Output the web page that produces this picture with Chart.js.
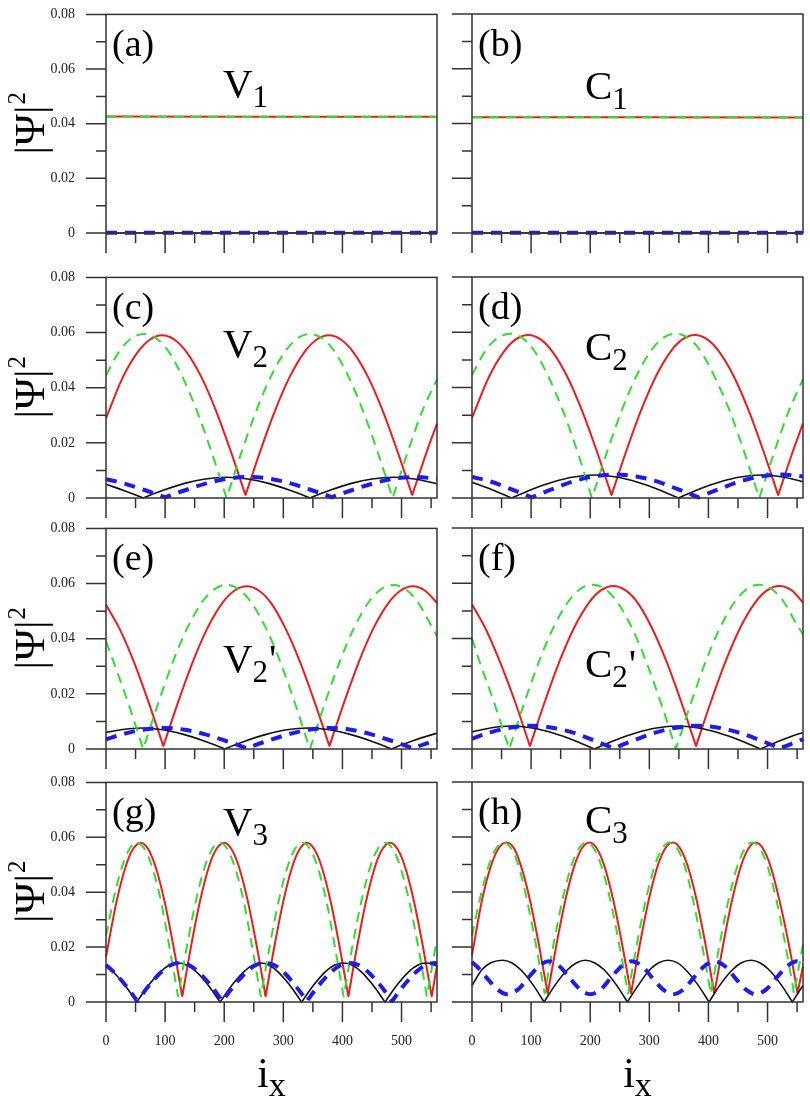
<!DOCTYPE html>
<html>
<head>
<meta charset="utf-8">
<script src="https://cdn.jsdelivr.net/npm/chart.js@4.4.1/dist/chart.umd.min.js"></script>
<style>
  html, body { margin: 0; padding: 0; background: #fff; }
  #fig { position: relative; width: 810px; height: 1104px; overflow: hidden; }
  #fig canvas { position: absolute; }
</style>
</head>
<body>
<div id="fig"></div>
<script>
// |Psi|^2 along i_x. Each series is a list of [i_x, value].
const xTicks = [0, 100, 200, 300, 400, 500];
const yTicks = [0, 0.02, 0.04, 0.06, 0.08];

// (a) V1 / (b) C1
const aRed = [[0, 0.0426], [560, 0.0425]];
const aGreen = [[0, 0.0426], [560, 0.0425]];
const aBlack = [[0, 0], [560, 0]];
const aBlue = [[0, 0.0001], [560, 0.0001]];
const bRed = [[0, 0.0423], [560, 0.0422]];
const bGreen = [[0, 0.0423], [560, 0.0422]];
const bBlack = [[0, 0], [560, 0]];
const bBlue = [[0, 0.0001], [560, 0.0001]];

// (c) V2 / (d) C2
const cRed = [[0,0.029],[29,0.044],[54,0.053],[74,0.0574],[95,0.059],[116,0.0574],[136,0.053],[161,0.044],[186,0.0317],[211,0.017],[234,0.0023],[236,0.001],[238,0.0023],[261,0.017],[286,0.0317],[311,0.044],[336,0.053],[356,0.0574],[377,0.059],[398,0.0574],[418,0.053],[443,0.044],[468,0.0317],[493,0.017],[516,0.0023],[518,0.001],[520,0.0023],[543,0.017],[560,0.027]];
const cGreen = [[0,0.0445],[23,0.0534],[43,0.0579],[64,0.0595],[85,0.0579],[105,0.0534],[129,0.0441],[154,0.0315],[179,0.0164],[202,0.0013],[204,0],[206,0.0013],[229,0.0164],[254,0.0315],[279,0.0441],[304,0.0534],[324,0.0579],[345,0.0595],[366,0.0579],[386,0.0534],[410,0.0441],[435,0.0315],[460,0.0164],[483,0.0013],[485,0],[487,0.0013],[510,0.0164],[535,0.0315],[560,0.043]];
const cBlack = [[0,0.005],[28,0.0029],[61,0.0002],[63,0],[65,0.0002],[98,0.0029],[133,0.0053],[168,0.0069],[204,0.0075],[240,0.0069],[275,0.0053],[310,0.0029],[343,0.0002],[345,0],[347,0.0002],[380,0.0029],[415,0.0053],[450,0.0069],[486,0.0075],[522,0.0069],[560,0.0052]];
const cBlue = [[0,0.0068],[30,0.0053],[65,0.0029],[98,0.0004],[100,0.0002],[102,0.0004],[135,0.0029],[170,0.0053],[205,0.007],[241,0.0076],[277,0.007],[312,0.0053],[347,0.0029],[380,0.0004],[382,0.0002],[384,0.0004],[417,0.0029],[452,0.0053],[487,0.007],[523,0.0076],[560,0.007]];
const dRed = [[0,0.029],[29,0.044],[54,0.053],[74,0.0574],[95,0.059],[116,0.0574],[136,0.053],[161,0.044],[186,0.0317],[211,0.017],[234,0.0023],[236,0.001],[238,0.0023],[261,0.017],[286,0.0317],[311,0.044],[336,0.053],[356,0.0574],[377,0.059],[398,0.0574],[418,0.053],[443,0.044],[468,0.0317],[493,0.017],[516,0.0023],[518,0.001],[520,0.0023],[543,0.017],[560,0.027]];
const dGreen = [[0,0.0445],[23,0.0534],[43,0.0579],[64,0.0595],[85,0.0579],[105,0.0534],[129,0.0441],[154,0.0315],[179,0.0164],[201,0.0013],[203,0],[205,0.0013],[228,0.0164],[253,0.0315],[278,0.0441],[303,0.0534],[323,0.0579],[345,0.0595],[366,0.0579],[386,0.0534],[410,0.0441],[436,0.0315],[461,0.0164],[484,0.0013],[486,0],[488,0.0013],[511,0.0164],[536,0.0315],[560,0.043]];
const dBlack = [[0,0.0057],[32,0.0032],[65,0.0002],[67,0],[69,0.0002],[102,0.0032],[137,0.0058],[172,0.0076],[208,0.0083],[244,0.0076],[279,0.0058],[314,0.0032],[347,0.0002],[349,0],[351,0.0002],[384,0.0032],[419,0.0058],[454,0.0076],[490,0.0083],[526,0.0076],[560,0.0059]];
const dBlue = [[0,0.0076],[31,0.006],[66,0.0032],[99,0.0004],[101,0.0002],[103,0.0004],[136,0.0032],[171,0.006],[206,0.0078],[242,0.0085],[278,0.0078],[313,0.006],[348,0.0032],[381,0.0004],[383,0.0002],[385,0.0004],[418,0.0032],[453,0.006],[488,0.0078],[524,0.0085],[560,0.0078]];

// (e) V2' / (f) C2'
const eRed = [[0,0.0523],[22,0.044],[47,0.0317],[72,0.017],[95,0.0023],[97,0.001],[99,0.0023],[122,0.017],[147,0.0317],[172,0.044],[197,0.053],[217,0.0574],[238,0.059],[259,0.0574],[279,0.053],[303,0.044],[328,0.0317],[353,0.017],[376,0.0023],[378,0.001],[380,0.0023],[403,0.017],[428,0.0317],[453,0.044],[478,0.053],[498,0.0574],[519,0.059],[540,0.0574],[560,0.053]];
const eGreen = [[0,0.039],[13,0.0315],[38,0.0164],[61,0.0013],[63,0],[65,0.0013],[88,0.0164],[113,0.0315],[138,0.0441],[163,0.0534],[183,0.0579],[204,0.0595],[225,0.0579],[245,0.0534],[270,0.0441],[295,0.0315],[320,0.0164],[343,0.0013],[345,0],[347,0.0013],[370,0.0164],[395,0.0315],[420,0.0441],[445,0.0534],[465,0.0579],[486,0.0595],[507,0.0579],[527,0.0534],[552,0.0441],[560,0.041]];
const eBlack = [[0,0.006],[25,0.007],[60,0.0076],[96,0.007],[131,0.0053],[166,0.0029],[199,0.0002],[201,0],[203,0.0002],[236,0.0029],[271,0.0053],[306,0.007],[342,0.0076],[378,0.007],[413,0.0053],[448,0.0029],[481,0.0002],[483,0],[485,0.0002],[518,0.0029],[553,0.0053],[560,0.0057]];
const eBlue = [[0,0.0035],[27,0.0053],[62,0.007],[97,0.0076],[133,0.007],[168,0.0053],[203,0.0029],[236,0.0004],[238,0.0002],[240,0.0004],[273,0.0029],[308,0.0053],[343,0.007],[378,0.0076],[414,0.007],[449,0.0053],[484,0.0029],[517,0.0004],[519,0.0002],[521,0.0004],[554,0.0029],[560,0.0034]];
const fRed = [[0,0.0523],[22,0.044],[47,0.0317],[73,0.017],[96,0.0023],[98,0.001],[100,0.0023],[123,0.017],[148,0.0317],[173,0.044],[198,0.053],[218,0.0574],[239,0.059],[260,0.0574],[280,0.053],[304,0.044],[329,0.0317],[354,0.017],[377,0.0023],[379,0.001],[381,0.0023],[404,0.017],[429,0.0317],[454,0.044],[479,0.053],[499,0.0574],[520,0.059],[541,0.0574],[560,0.053]];
const fGreen = [[0,0.04],[13,0.0315],[38,0.0164],[61,0.0013],[63,0],[65,0.0013],[88,0.0164],[113,0.0315],[138,0.0441],[163,0.0534],[183,0.0579],[204,0.0595],[225,0.0579],[245,0.0534],[270,0.0441],[295,0.0315],[320,0.0164],[343,0.0013],[345,0],[347,0.0013],[370,0.0164],[395,0.0315],[420,0.0441],[445,0.0534],[465,0.0579],[486,0.0595],[507,0.0579],[527,0.0534],[552,0.0441],[560,0.0415]];
const fBlack = [[0,0.0062],[31,0.0076],[66,0.0083],[102,0.0076],[137,0.0058],[172,0.0032],[205,0.0002],[207,0],[209,0.0002],[242,0.0032],[277,0.0058],[312,0.0076],[347,0.0083],[383,0.0076],[418,0.0058],[453,0.0032],[486,0.0002],[488,0],[490,0.0002],[523,0.0032],[558,0.0058],[560,0.0059]];
const fBlue = [[0,0.0037],[29,0.0059],[64,0.0077],[100,0.0084],[136,0.0077],[171,0.0059],[205,0.0032],[238,0.0004],[240,0.0002],[242,0.0004],[275,0.0032],[310,0.0059],[345,0.0077],[381,0.0084],[417,0.0077],[452,0.0059],[487,0.0032],[519,0.0004],[521,0.0002],[523,0.0004],[556,0.0032],[560,0.0036]];

// (g) V3 / (h) C3
const gRed = [[0,0.0165],[18,0.0367],[33,0.0492],[46,0.0558],[59,0.058],[71,0.0558],[84,0.0492],[99,0.0367],[114,0.0204],[127,0.0045],[129,0.002],[131,0.0045],[144,0.0204],[159,0.0367],[174,0.0492],[187,0.0558],[200,0.058],[212,0.0558],[225,0.0492],[240,0.0367],[255,0.0204],[268,0.0045],[270,0.002],[272,0.0045],[285,0.0204],[300,0.0367],[315,0.0492],[328,0.0558],[340,0.058],[352,0.0558],[365,0.0492],[380,0.0367],[395,0.0204],[408,0.0045],[410,0.002],[412,0.0045],[425,0.0204],[440,0.0367],[455,0.0492],[468,0.0558],[481,0.058],[493,0.0558],[506,0.0492],[521,0.0367],[536,0.0204],[549,0.0045],[551,0.002],[553,0.0045],[560,0.0133]];
const gGreen = [[0,0.024],[12,0.0367],[27,0.0492],[40,0.0558],[52,0.058],[65,0.0558],[78,0.0492],[93,0.0367],[107,0.0204],[120,0.0045],[122,0.002],[124,0.0045],[137,0.0204],[152,0.0367],[167,0.0492],[180,0.0558],[192,0.058],[205,0.0558],[218,0.0492],[233,0.0367],[247,0.0204],[260,0.0045],[262,0.002],[264,0.0045],[277,0.0204],[292,0.0367],[307,0.0492],[320,0.0558],[332,0.058],[345,0.0558],[358,0.0492],[373,0.0367],[387,0.0204],[400,0.0045],[402,0.002],[404,0.0045],[417,0.0204],[432,0.0367],[447,0.0492],[460,0.0558],[472,0.058],[485,0.0558],[498,0.0492],[513,0.0367],[528,0.0204],[541,0.0045],[543,0.002],[545,0.0045],[558,0.0204],[560,0.022]];
const gBlack = [[0,0.0132],[12,0.011],[32,0.0061],[50,0.0006],[52,0],[54,0.0006],[72,0.0061],[92,0.011],[107,0.0134],[122,0.0142],[137,0.0134],[153,0.011],[173,0.0061],[191,0.0006],[193,0],[195,0.0006],[213,0.0061],[233,0.011],[248,0.0134],[262,0.0142],[276,0.0134],[291,0.011],[311,0.0061],[329,0.0006],[331,0],[333,0.0006],[351,0.0061],[371,0.011],[386,0.0134],[402,0.0142],[417,0.0134],[432,0.011],[452,0.0061],[470,0.0006],[472,0],[474,0.0006],[492,0.0061],[512,0.011],[527,0.0134],[542,0.0142],[557,0.0134],[560,0.0132]];
const gBlue = [[0,0.0135],[13,0.011],[33,0.0061],[51,0.0009],[53,0.0003],[55,0.0009],[73,0.0061],[94,0.011],[109,0.0134],[125,0.0142],[141,0.0134],[156,0.011],[177,0.0061],[195,0.0009],[197,0.0003],[199,0.0009],[217,0.0061],[238,0.011],[253,0.0134],[269,0.0142],[285,0.0134],[300,0.011],[320,0.0061],[338,0.0009],[340,0.0003],[342,0.0009],[360,0.0061],[381,0.011],[397,0.0134],[412,0.0142],[428,0.0134],[443,0.011],[464,0.0061],[482,0.0009],[484,0.0003],[486,0.0009],[504,0.0061],[525,0.011],[540,0.0134],[556,0.0142],[560,0.0141]];
const hRed = [[0,0.017],[17,0.0371],[32,0.0494],[45,0.0559],[58,0.058],[71,0.0559],[83,0.0494],[98,0.0371],[113,0.021],[126,0.0055],[128,0.003],[130,0.0055],[143,0.021],[158,0.0371],[173,0.0494],[186,0.0559],[199,0.058],[211,0.0559],[224,0.0494],[239,0.0371],[254,0.021],[267,0.0055],[269,0.003],[271,0.0055],[284,0.021],[299,0.0371],[314,0.0494],[327,0.0559],[340,0.058],[352,0.0559],[365,0.0494],[380,0.0371],[395,0.021],[408,0.0055],[410,0.003],[412,0.0055],[425,0.021],[440,0.0371],[455,0.0494],[468,0.0559],[480,0.058],[492,0.0559],[505,0.0494],[520,0.0371],[536,0.021],[549,0.0055],[551,0.003],[553,0.0055],[560,0.013]];
const hGreen = [[0,0.024],[13,0.0371],[28,0.0494],[41,0.0559],[53,0.058],[66,0.0559],[79,0.0494],[93,0.0371],[108,0.021],[121,0.0055],[123,0.003],[125,0.0055],[138,0.021],[153,0.0371],[168,0.0494],[181,0.0559],[193,0.058],[206,0.0559],[219,0.0494],[234,0.0371],[249,0.021],[262,0.0055],[264,0.003],[266,0.0055],[279,0.021],[294,0.0371],[309,0.0494],[322,0.0559],[334,0.058],[347,0.0559],[360,0.0494],[374,0.0371],[389,0.021],[402,0.0055],[404,0.003],[406,0.0055],[419,0.021],[434,0.0371],[449,0.0494],[462,0.0559],[474,0.058],[487,0.0559],[500,0.0494],[515,0.0371],[530,0.021],[543,0.0055],[545,0.003],[547,0.0055],[560,0.021]];
const hBlack = [[0,0.006],[17,0.0118],[32,0.0143],[52,0.0152],[67,0.0143],[82,0.0118],[102,0.0066],[120,0.0007],[122,0],[124,0.0007],[142,0.0066],[162,0.0118],[177,0.0143],[192,0.0152],[207,0.0143],[223,0.0118],[243,0.0066],[261,0.0007],[263,0],[265,0.0007],[283,0.0066],[301,0.0118],[316,0.0143],[332,0.0152],[347,0.0143],[361,0.0118],[381,0.0066],[399,0.0007],[401,0],[403,0.0007],[421,0.0066],[441,0.0118],[456,0.0143],[472,0.0152],[487,0.0143],[502,0.0118],[522,0.0066],[540,0.0007],[542,0],[544,0.0007],[560,0.006]];
const hBlue = [[0,0.0145],[8,0.013],[25,0.0088],[43,0.0046],[60,0.0028],[78,0.0046],[95,0.0088],[113,0.013],[130,0.0148],[148,0.013],[165,0.0088],[183,0.0046],[200,0.0028],[218,0.0046],[235,0.0088],[253,0.013],[270,0.0148],[288,0.013],[305,0.0088],[323,0.0046],[340,0.0028],[358,0.0046],[375,0.0088],[393,0.013],[410,0.0148],[428,0.013],[445,0.0088],[463,0.0046],[480,0.0028],[498,0.0046],[515,0.0088],[533,0.013],[550,0.0148],[560,0.0142]];

const panels = [
  { tag: 'a', row: 0, col: 0, name: 'V', sub: '1', prime: false, dy: 83, red: aRed, green: aGreen, black: aBlack, blue: aBlue },
  { tag: 'b', row: 0, col: 1, name: 'C', sub: '1', prime: false, dy: 85, red: bRed, green: bGreen, black: bBlack, blue: bBlue },
  { tag: 'c', row: 1, col: 0, name: 'V', sub: '2', prime: false, dy: 80, red: cRed, green: cGreen, black: cBlack, blue: cBlue },
  { tag: 'd', row: 1, col: 1, name: 'C', sub: '2', prime: false, dy: 83, red: dRed, green: dGreen, black: dBlack, blue: dBlue },
  { tag: 'e', row: 2, col: 0, name: 'V', sub: '2', prime: true, dy: 144, red: eRed, green: eGreen, black: eBlack, blue: eBlue },
  { tag: 'f', row: 2, col: 1, name: 'C', sub: '2', prime: true, dy: 149, red: fRed, green: fGreen, black: fBlack, blue: fBlue },
  { tag: 'g', row: 3, col: 0, name: 'V', sub: '3', prime: false, dy: 53, red: gRed, green: gGreen, black: gBlack, blue: gBlue },
  { tag: 'h', row: 3, col: 1, name: 'C', sub: '3', prime: false, dy: 51, red: hRed, green: hGreen, black: hBlack, blue: hBlue },
];

const rowTop = [14, 277, 528, 782];
const rowH = [219, 221, 221, 220];
const serif = '"Liberation Serif", "Times New Roman", serif';
const frameColor = '#333';

const deco = {
  id: 'deco',
  afterDatasetsDraw(chart, args, o) {
    const { ctx, chartArea: a } = chart;
    const x = chart.scales.x, y = chart.scales.y;
    ctx.save();
    ctx.strokeStyle = frameColor;
    ctx.lineWidth = 1.5;
    ctx.strokeRect(a.left, a.top, a.right - a.left, a.bottom - a.top);
    ctx.beginPath();
    for (let k = 0; k <= 8; k++) {
      const py = y.getPixelForValue(k / 100);
      const len = k % 2 === 0 ? 20 : 10;
      ctx.moveTo(a.left - len, py);
      ctx.lineTo(a.left, py);
    }
    for (let v = 0; v <= 550; v += 50) {
      const px = x.getPixelForValue(v);
      const len = v % 100 === 0 ? 20 : 10;
      ctx.moveTo(px, a.bottom);
      ctx.lineTo(px, a.bottom + len);
    }
    ctx.stroke();

    ctx.fillStyle = '#000';
    ctx.textBaseline = 'alphabetic';
    ctx.textAlign = 'left';
    ctx.font = '38px ' + serif;
    ctx.fillText('(' + o.tag + ')', a.left + 6, a.top + 42);

    const nx = a.left + (o.col === 0 ? 117 : 113);
    const ny = a.top + o.dy;
    ctx.font = '41px ' + serif;
    ctx.fillText(o.name, nx, ny);
    const nw = ctx.measureText(o.name).width;
    ctx.font = '31px ' + serif;
    ctx.fillText(o.sub, nx + nw, ny + 10);
    const sw = ctx.measureText(o.sub).width;
    if (o.prime) {
      ctx.font = '41px ' + serif;
      ctx.fillText("'", nx + nw + sw + 1, ny);
    }

    if (o.col === 0) {
      ctx.save();
      ctx.translate(44, (a.top + a.bottom) / 2);
      ctx.rotate(-Math.PI / 2);
      ctx.font = '43px ' + serif;
      const w1 = ctx.measureText('|Ψ|').width;
      ctx.font = '25px ' + serif;
      const w2 = ctx.measureText('2').width;
      const sx = -(w1 + w2) / 2;
      ctx.font = '43px ' + serif;
      ctx.fillText('|Ψ|', sx, 0);
      ctx.font = '25px ' + serif;
      ctx.fillText('2', sx + w1 + 1, -19);
      ctx.restore();
    }

    if (o.row === 3) {
      ctx.font = '42px ' + serif;
      const wi = ctx.measureText('i').width;
      ctx.font = '34px ' + serif;
      const wx = ctx.measureText('x').width;
      const sx = (a.left + a.right) / 2 - (wi + wx) / 2;
      ctx.font = '42px ' + serif;
      ctx.fillText('i', sx, a.bottom + 85);
      ctx.font = '34px ' + serif;
      ctx.fillText('x', sx + wi, a.bottom + 94);
    }
    ctx.restore();
  }
};

const fig = document.getElementById('fig');

function series(data, color, width, dash, order) {
  return {
    data: data,
    borderColor: color,
    borderWidth: width,
    borderDash: dash,
    order: order,
    fill: false,
    clip: 5,
    pointRadius: 0,
    tension: 0.4,
    cubicInterpolationMode: 'monotone'
  };
}

panels.forEach(p => {
  const left = p.col === 0 ? 0 : 440;
  const w = p.col === 0 ? 440 : 370;
  const axisW = p.col === 0 ? 106 : 32;
  const padR = p.col === 0 ? 3 : 7;
  const bottomRow = p.row === 3;
  const xH = bottomRow ? 100 : 24;
  const canvas = document.createElement('canvas');
  canvas.width = w;
  canvas.height = 8 + rowH[p.row] + xH;
  canvas.style.left = left + 'px';
  canvas.style.top = (rowTop[p.row] - 8) + 'px';
  fig.appendChild(canvas);

  new Chart(canvas, {
    type: 'line',
    data: {
      datasets: [
        series(p.red, '#ee1c1c', 2, [], 3),
        series(p.black, '#111111', 1.6, [], 2),
        series(p.green, '#2ee02e', 2, [10, 7], 1),
        series(p.blue, '#1c1cf0', 4, [11, 8], 0)
      ]
    },
    options: {
      responsive: false,
      animation: false,
      devicePixelRatio: 1,
      layout: { padding: { top: 8, right: padR, left: 0, bottom: 0 } },
      plugins: {
        legend: { display: false },
        tooltip: { enabled: false },
        deco: { tag: p.tag, name: p.name, sub: p.sub, prime: p.prime, dy: p.dy, col: p.col, row: p.row }
      },
      scales: {
        x: {
          type: 'linear',
          min: 0,
          max: 560,
          afterFit: s => { s.height = xH; },
          grid: { display: false, drawTicks: true, tickLength: 31 },
          border: { display: false },
          ticks: {
            display: bottomRow,
            stepSize: 100,
            includeBounds: false,
            padding: 0,
            color: '#222',
            font: { family: serif, size: 14 },
            callback: v => xTicks.includes(v) ? String(v) : ''
          }
        },
        y: {
          type: 'linear',
          min: 0,
          max: 0.08,
          afterFit: s => { s.width = axisW; },
          grid: { display: false, drawTicks: true, tickLength: 31 },
          border: { display: false },
          ticks: {
            display: p.col === 0,
            stepSize: 0.02,
            padding: 0,
            color: '#222',
            font: { family: serif, size: 14 },
            callback: v => {
              const t = yTicks.find(q => Math.abs(q - v) < 1e-9);
              if (t === undefined) return '';
              return t === 0 ? '0' : t.toFixed(2);
            }
          }
        }
      }
    },
    plugins: [deco]
  });
});
</script>
</body>
</html>
